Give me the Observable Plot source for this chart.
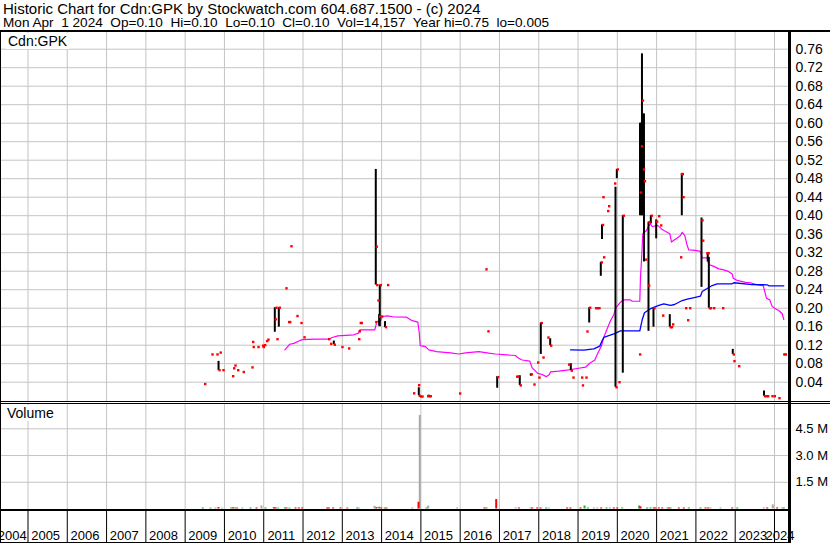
<!DOCTYPE html>
<html><head><meta charset="utf-8">
<script src="https://cdn.jsdelivr.net/npm/d3@7"></script>
<script src="https://cdn.jsdelivr.net/npm/@observablehq/plot@0.6"></script>
<style>
body{margin:0;background:#fff;}
#wrap{position:relative;width:830px;height:543px;overflow:hidden;background:#fff;font-family:"Liberation Sans",Arial,sans-serif;color:#000;}
.t{position:absolute;left:3px;white-space:pre;}
.ln{position:absolute;background:#000;}
.lab{position:absolute;background:#fff;font-size:14px;line-height:16px;padding:0 2px;}
.panel{position:absolute;left:0;}
</style></head><body>
<div id="wrap">
  <div class="t" style="top:1px;font-size:15px;line-height:15px">Historic Chart for Cdn:GPK by Stockwatch.com 604.687.1500 - (c) 2024</div>
  <div class="t" style="top:16px;font-size:13.6px;line-height:14px">Mon Apr  1 2024  Op=0.10  Hi=0.10  Lo=0.10  Cl=0.10  Vol=14,157  Year hi=0.75  lo=0.005</div>
  <div id="price" class="panel" style="top:32px"></div>
  <div id="vol" class="panel" style="top:404px"></div>
  <div id="years" class="panel" style="top:511px"></div>
  <div class="lab" style="left:6px;top:33px">Cdn:GPK</div>
  <div class="lab" style="left:5px;top:405px">Volume</div>
  <div class="ln" style="left:0;top:30px;width:830px;height:2px"></div>
  <div class="ln" style="left:0;top:30px;width:1px;height:513px"></div>
  <div class="ln" style="left:0;top:401px;width:830px;height:1px"></div>
  <div class="ln" style="left:0;top:403px;width:830px;height:1px"></div>
  <div class="ln" style="left:788px;top:30px;width:3px;height:513px"></div>
  <div class="ln" style="left:0;top:509px;width:791px;height:2px"></div>
  <div class="ln" style="left:0;top:542px;width:791px;height:1px"></div>
</div>
<script>
// ---------- data ----------
const yearTicks = [2005,2006,2007,2008,2009,2010,2011,2012,2013,2014,2015,2016,2017,2018,2019,2020,2021,2022,2023,2024];
const yearLabels = [2004,2005,2006,2007,2008,2009,2010,2011,2012,2013,2014,2015,2016,2017,2018,2019,2020,2021,2022,2023,2024];
const priceTicks = [0.04,0.08,0.12,0.16,0.20,0.24,0.28,0.32,0.36,0.40,0.44,0.48,0.52,0.56,0.60,0.64,0.68,0.72,0.76];
const volumeTicks = [1.5e6,3.0e6,4.5e6];

// daily trades (decimal year); barHigh/barLow null = single-price day
const barDate = [2009.485,2009.671,2009.798,2009.85,2009.88,2009.951,2010.197,2010.223,2010.256,2010.325,2010.467,2010.689,2010.707,2010.72,2010.842,2010.961,2010.976,2011.012,2011.063,2011.096,
 2011.282,2011.30,2011.325,2011.384,2011.554,2011.623,2011.648,2011.681,2011.834,2011.936,2012.013,2012.641,2012.692,2012.784,2012.979,2013.150,2013.405,2013.42,2013.445,2013.47,
 2013.84,2013.852,2013.865,2013.896,2013.938,2013.954,2013.99,2014.087,2014.142,2014.804,2014.93,2014.947,2014.98,2015.016,2015.160,2015.20,2015.226,2015.975,2016.644,2016.695,
 2016.942,2017.425,2017.459,2017.517,2017.797,2017.866,2017.96,2017.993,2018.052,2018.096,2018.222,2018.291,2018.749,2018.816,2018.859,2019.08,2019.10,2019.19,2019.215,2019.284,
 2019.437,2019.478,2019.52,2019.579,2019.61,2019.623,2019.64,2019.742,2019.767,2019.92,2019.953,2019.987,2020.03,2020.139,2020.555,2020.577,2020.602,2020.627,2020.653,2020.678,
 2020.71,2020.785,2020.793,2020.852,2020.92,2020.989,2021.04,2021.091,2021.142,2021.335,2021.366,2021.396,2021.60,2021.62,2021.641,2021.66,2021.727,2021.778,2021.829,2022.142,
 2022.16,2022.27,2022.30,2022.329,2022.36,2022.44,2022.669,2022.938,2022.956,2023.076,2023.733,2023.77,2023.814,2023.924,2023.983,2024.102,2024.225,2024.262];
const barHigh = [null,null,null,0.085,null,null,null,null,null,null,null,null,null,null,null,null,null,null,null,null,
 0.201,null,null,0.201,null,null,null,null,null,null,null,null,null,0.129,null,null,null,null,null,null,
 null,0.50,null,null,0.186,0.25,null,0.171,null,null,null,0.028,null,null,null,0.012,null,null,null,null,
 0.052,null,null,0.054,0.058,null,null,null,0.168,null,null,0.134,null,0.080,null,null,null,null,null,0.201,
 null,null,null,0.299,0.380,null,null,null,null,null,0.4616,0.50,null,0.40,null,0.60,0.60,0.75,0.62,0.62,
 null,null,0.386,0.40,0.20,0.391,null,null,null,0.186,null,null,null,null,0.49,null,null,null,null,0.395,
 null,null,0.319,0.31,null,null,null,0.111,null,null,0.021,null,null,null,null,null,null,null];
const barLow = [null,null,null,0.065,null,null,null,null,null,null,null,null,null,null,null,null,null,null,null,null,
 0.148,null,null,0.159,null,null,null,null,null,null,null,null,null,0.121,null,null,null,null,null,null,
 null,0.25,null,null,0.161,0.160,null,0.158,null,null,null,0.0106,null,null,null,0.0095,null,null,null,null,
 0.027,null,null,0.033,0.053,null,null,null,0.100,null,null,0.119,null,0.065,null,null,null,null,null,0.168,
 null,null,null,0.269,0.3485,null,null,null,null,null,0.029,0.48,null,0.0595,null,0.40,0.40,0.40,0.40,0.30,
 null,null,0.150,0.382,0.159,0.35,null,null,null,0.159,null,null,null,null,0.40,null,null,null,null,0.245,
 null,null,0.30,0.20,null,null,null,0.10,null,null,0.0097,null,null,null,null,null,null,null];
const barClose = [0.036,0.100,0.100,0.066,0.104,0.066,0.053,0.070,0.076,0.066,0.062,0.072,0.127,0.116,0.116,0.119,0.116,0.120,0.129,0.132,
 0.176,0.201,0.133,0.201,0.243,0.170,0.170,0.334,0.183,0.168,0.137,0.133,0.123,0.121,0.116,0.113,0.133,0.150,0.168,0.168,
 0.170,0.333,0.25,0.2166,0.182,0.25,0.182,0.159,0.25,0.016,0.0335,0.0106,0.009,0.009,0.0097,0.0097,0.0097,0.0156,0.284,0.150,
 0.051,0.052,0.052,0.033,0.057,0.035,0.0826,0.050,0.168,0.0934,0.1366,0.119,0.078,0.065,0.050,0.050,0.033,0.050,0.1496,0.201,
 0.20,0.20,0.20,0.299,0.380,0.44,0.31,0.41,0.4205,0.4696,0.029,0.50,0.040,0.40,0.10,0.45,0.55,0.649,0.50,0.4746,
 0.305,0.249,0.386,0.40,0.20,0.387,0.399,0.379,0.184,0.159,0.159,0.165,0.31,0.49,0.49,0.44,0.20,0.174,0.20,0.39,
 0.346,0.319,0.319,0.20,0.20,0.20,0.20,0.10,0.0855,0.0746,0.0097,0.0097,0.0097,0.0097,0.0097,0.0054,0.10,0.10];

// moving averages
const pinkDate = [2011.537,2011.597,2011.664,2011.766,2011.868,2011.979,2012.318,2012.656,2012.743,2012.885,2013.293,2013.412,2013.445,2013.827,2013.863,2013.870,2013.972,2014.015,2014.150,2014.311,
 2014.634,2014.779,2014.922,2014.957,2014.983,2015.117,2015.201,2015.397,2015.754,2015.965,2016.136,2016.474,2016.729,2016.899,2017.179,2017.408,2017.467,2017.578,2017.772,2017.833,
 2017.976,2018.087,2018.189,2018.273,2018.299,2018.510,2018.765,2018.978,2019.189,2019.299,2019.427,2019.488,2019.597,2019.656,2019.757,2019.826,2019.910,2019.971,2020.080,2020.164,
 2020.335,2020.378,2020.572,2020.589,2020.615,2020.648,2020.743,2020.801,2020.844,2020.887,2021.030,2021.142,2021.336,2021.379,2021.456,2021.523,2021.607,2021.651,2021.717,2021.778,
 2021.819,2021.989,2022.116,2022.160,2022.287,2022.328,2022.440,2022.583,2022.710,2022.837,2022.923,2022.949,2023.051,2023.262,2023.390,2023.542,2023.713,2023.746,2023.796,2023.880,
 2023.941,2024.000,2024.110,2024.196,2024.237];
const pinkValue = [0.110,0.1157,0.122,0.124,0.128,0.132,0.133,0.133,0.1366,0.140,0.1425,0.146,0.153,0.153,0.165,0.171,0.172,0.182,0.1835,0.181,
 0.1806,0.173,0.170,0.148,0.119,0.117,0.110,0.106,0.1035,0.101,0.1035,0.106,0.1027,0.101,0.099,0.0977,0.0927,0.088,0.0854,0.071,
 0.059,0.0566,0.052,0.0566,0.0625,0.064,0.0668,0.0696,0.0724,0.081,0.088,0.100,0.119,0.137,0.159,0.173,0.186,0.202,0.213,0.218,
 0.218,0.215,0.215,0.267,0.303,0.361,0.368,0.379,0.382,0.3766,0.379,0.370,0.361,0.343,0.348,0.352,0.357,0.364,0.357,0.3355,
 0.326,0.325,0.323,0.309,0.309,0.2945,0.291,0.285,0.283,0.279,0.274,0.265,0.260,0.256,0.255,0.251,0.249,0.238,0.2216,0.218,
 0.204,0.200,0.195,0.188,0.1755];
const blueDate = [2018.808,2019.147,2019.401,2019.554,2019.615,2019.656,2019.910,2020.080,2020.572,2020.633,2020.691,2020.844,2021.056,2021.182,2021.353,2021.456,2021.651,2021.778,2021.931,2022.116,
 2022.160,2022.287,2022.414,2022.541,2022.923,2022.964,2023.432,2023.814,2023.855,2024.237];
const blueValue = [0.110,0.1095,0.112,0.118,0.130,0.137,0.1445,0.151,0.151,0.175,0.190,0.199,0.206,0.2095,0.206,0.208,0.2166,0.2195,0.2225,0.226,
 0.236,0.2426,0.249,0.2527,0.2527,0.255,0.251,0.2506,0.2484,0.2484];

// volume: date, shares, direction (u = up, d = down, f = unchanged)
const volDate = [2009.449,2009.645,2009.773,2009.849,2009.943,2010.172,2010.223,2010.281,2010.325,2010.452,2010.663,2010.816,2010.943,2011.045,2011.257,2011.300,2011.368,2011.537,2011.580,2011.656,
 2011.809,2011.893,2011.979,2012.615,2012.656,2012.768,2012.954,2013.125,2013.379,2013.420,2013.820,2013.870,2013.939,2013.990,2014.082,2014.125,2014.779,2014.94,2014.972,2015.143,
 2015.186,2015.924,2016.619,2016.670,2016.917,2017.411,2017.495,2017.79,2017.833,2017.96,2018.045,2018.189,2018.256,2018.723,2018.808,2019.062,2019.165,2019.248,2019.401,2019.488,
 2019.589,2019.725,2019.809,2019.910,2019.997,2020.123,2020.556,2020.589,2020.760,2020.844,2020.928,2020.971,2021.056,2021.142,2021.27,2021.311,2021.353,2021.565,2021.692,2021.819,
 2022.116,2022.245,2022.313,2022.371,2022.626,2022.923,2023.051,2023.728,2023.814,2023.956,2024.068,2024.196,2024.237];
const volShares = [60000,50000,60000,80000,50000,60000,70000,60000,50000,60000,60000,60000,170000,60000,70000,70000,50000,60000,60000,50000,
 60000,60000,60000,60000,60000,60000,60000,50000,60000,50000,150000,80000,100000,60000,60000,50000,60000,380000,5250000,60000,
 170000,60000,60000,60000,530000,60000,60000,60000,60000,60000,60000,60000,50000,60000,60000,60000,170000,60000,60000,60000,
 60000,60000,60000,60000,60000,60000,170000,120000,60000,60000,60000,60000,60000,60000,60000,60000,60000,60000,60000,60000,
 60000,60000,60000,60000,60000,60000,60000,60000,60000,230000,60000,60000,60000];
const volDir = ["u","u","f","d","f","u","d","u","d","f","u","d","f","u","d","d","u","u","d","u",
 "d","d","d","d","d","d","d","d","u","f","f","d","u","d","u","d","f","d","f","u",
 "f","f","d","u","d","f","d","f","d","d","d","u","f","d","d","d","u","u","f","f",
 "d","u","f","d","d","u","u","d","u","u","d","d","d","d","f","d","u","d","d","u",
 "u","d","d","f","f","d","u","f","d","f","d","f","u"];

// ---------- build ----------
const X0 = 2004.3003, X1 = 2024.382;
const bars = barDate.map((d,i)=>({date:d, high:barHigh[i], low:barLow[i], close:barClose[i]}));
const pink = pinkDate.map((d,i)=>({date:d, v:pinkValue[i]}));
const blue = blueDate.map((d,i)=>({date:d, v:blueValue[i]}));
const vols = volDate.map((d,i)=>({date:d, v:volShares[i], dir:volDir[i]}));
const labels = yearLabels.map(y=>({year:y, x:(Math.max(y,X0)+Math.min(y+1,X1))/2}));
const grid = "#c4c4c4";
const font = "'Liberation Sans', Arial, sans-serif";

const price = Plot.plot({
  width:830, height:369, marginLeft:0, marginRight:41, marginTop:0, marginBottom:0,
  style:{fontFamily:font, fontSize:"14px", background:"transparent", overflow:"visible"},
  x:{domain:[X0,X1], axis:null},
  y:{domain:[0,0.76], range:[368.2,16.7], axis:null},
  marks:[
    Plot.ruleX(yearTicks, {stroke:grid, strokeWidth:1}),
    Plot.ruleY(priceTicks, {stroke:grid, strokeWidth:1}),
    Plot.axisY(priceTicks, {anchor:"right", label:null, tickSize:0, tickPadding:6, tickFormat:d=>d.toFixed(2), fontSize:14, fill:"#000"}),
    Plot.line(pink, {x:"date", y:"v", stroke:"#ff00ff", strokeWidth:1.2}),
    Plot.line(blue, {x:"date", y:"v", stroke:"#0000ff", strokeWidth:1.3}),
    Plot.ruleX(bars.filter(d=>d.high!=null), {x:"date", y1:"low", y2:"high", stroke:"#000", strokeWidth:2}),
    Plot.dot(bars, {x:"date", y:"close", symbol:"square", r:1.35, fill:"#ff0000", stroke:null, dx:1})
  ]
});
document.getElementById("price").appendChild(price);

const vol = Plot.plot({
  width:830, height:106, marginLeft:0, marginRight:41, marginTop:0, marginBottom:0,
  style:{fontFamily:font, fontSize:"13px", background:"transparent", overflow:"visible"},
  x:{domain:[X0,X1], axis:null},
  y:{domain:[0,4.5e6], range:[104.5,24.3], axis:null},
  marks:[
    Plot.ruleX(yearTicks, {stroke:grid, strokeWidth:1}),
    Plot.ruleY(volumeTicks, {stroke:grid, strokeWidth:1}),
    Plot.axisY(volumeTicks, {anchor:"right", label:null, tickSize:0, tickPadding:6, tickFormat:d=>(d/1e6).toFixed(1)+" M", fontSize:13, fill:"#000"}),
    Plot.ruleX(vols.filter(d=>d.dir==="f"), {x:"date", y1:0, y2:"v", stroke:"#a8a8a8", strokeWidth:2}),
    Plot.ruleX(vols.filter(d=>d.dir==="u"), {x:"date", y1:0, y2:"v", stroke:"#22b422", strokeWidth:2}),
    Plot.ruleX(vols.filter(d=>d.dir==="d"), {x:"date", y1:0, y2:"v", stroke:"#ff0000", strokeWidth:2})
  ]
});
document.getElementById("vol").appendChild(vol);

const yrs = Plot.plot({
  width:830, height:32, marginLeft:0, marginRight:41, marginTop:0, marginBottom:0,
  style:{fontFamily:font, fontSize:"13px", background:"transparent", overflow:"visible"},
  x:{domain:[X0,X1], axis:null},
  marks:[
    Plot.ruleX(yearTicks, {stroke:"#000", strokeWidth:1}),
    Plot.text(labels, {x:"x", text:d=>String(d.year), frameAnchor:"bottom", lineAnchor:"bottom", dy:-4, dx:-2, fontSize:13, fill:"#000"})
  ]
});
document.getElementById("years").appendChild(yrs);
</script>
</body></html>
